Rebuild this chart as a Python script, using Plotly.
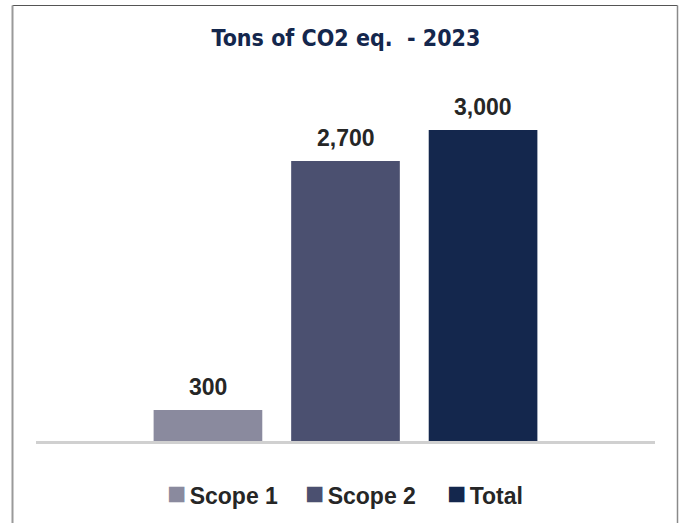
import plotly.graph_objects as go

categories = ["Scope 1", "Scope 2", "Total"]
values = [300, 2700, 3000]
colors = ["#8a8a9e", "#4b5070", "#14274d"]

title_text = "Tons of CO2 eq.&nbsp;&nbsp;- 2023"

W, H = 679, 523
plot_l, plot_r = 36, 655
plot_t, plot_b = 90, 441
plot_h = plot_b - plot_t
plot_w = plot_r - plot_l

LABEL_FONT = dict(family="Liberation Sans, Arial, sans-serif", size=23,
                  color="#262626", weight="bold")


def px_x(v):
    return (v - plot_l) / plot_w


def px_y(v):
    return (plot_b - v) / plot_h


fig = go.Figure()
for cat, val, col in zip(categories, values, colors):
    fig.add_trace(go.Bar(
        x=[cat], y=[val], name=cat,
        marker=dict(color=col, line=dict(width=0)),
        width=0.79,
        hoverinfo="skip",
    ))

# value labels above bars
for cat, val in zip(categories, values):
    fig.add_annotation(
        x=cat, y=val, text=f"{val:,}",
        showarrow=False, yanchor="bottom", yshift=8,
        font=LABEL_FONT,
    )

# legend row below the axis (squares + names), drawn as text so spacing matches
legend_left = [165, 303, 445]
for cat, col, lx in zip(categories, colors, legend_left):
    fig.add_annotation(
        xref="paper", yref="paper", x=px_x(lx), y=px_y(492.5),
        xanchor="left", yanchor="middle", showarrow=False,
        text=(f'<span style="color:{col};font-size:32px">■</span>'
              f'<span style="font-size:12px"> </span>{cat}'),
        font=LABEL_FONT,
    )

# outer frame (top dark, sides lighter)
frame = [
    (12.5, 5.5, 677.5, 5.5, "#555555", 1.2),
    (12.5, 5.5, 12.5, 540, "#9a9a9a", 2),
    (677.5, 5.5, 677.5, 540, "#8a8a8a", 1.5),
]
for x0, y0, x1, y1, c, w in frame:
    fig.add_shape(type="line", xref="paper", yref="paper",
                  x0=px_x(x0), y0=px_y(y0), x1=px_x(x1), y1=px_y(y1),
                  line=dict(color=c, width=w), layer="above")

fig.update_layout(
    width=W, height=H,
    margin=dict(l=plot_l, r=W - plot_r, t=plot_t, b=H - plot_b),
    paper_bgcolor="white", plot_bgcolor="white",
    barmode="overlay",
    showlegend=False,
    title=dict(
        text="<b>" + title_text + "</b>",
        x=346 / W, xref="container", xanchor="center",
        y=1 - 38 / H, yanchor="middle",
        font=dict(family="Liberation Sans Narrow, Arial Narrow, DejaVu Sans Condensed, sans-serif",
                  size=23, color="#14274d"),
    ),
    xaxis=dict(
        range=[-1.25, 3.25], showticklabels=False, showgrid=False,
        showline=True, linecolor="#d0d0d0", linewidth=2.5, ticks="", zeroline=False,
    ),
    yaxis=dict(
        range=[0, 3386], visible=False, showgrid=False, zeroline=False,
    ),
)

# the page body margin would push the figure off the window
fig.write_html("out.html", config={"displayModeBar": False},
               post_script="document.body.style.margin='0';document.body.style.overflow='hidden';")
